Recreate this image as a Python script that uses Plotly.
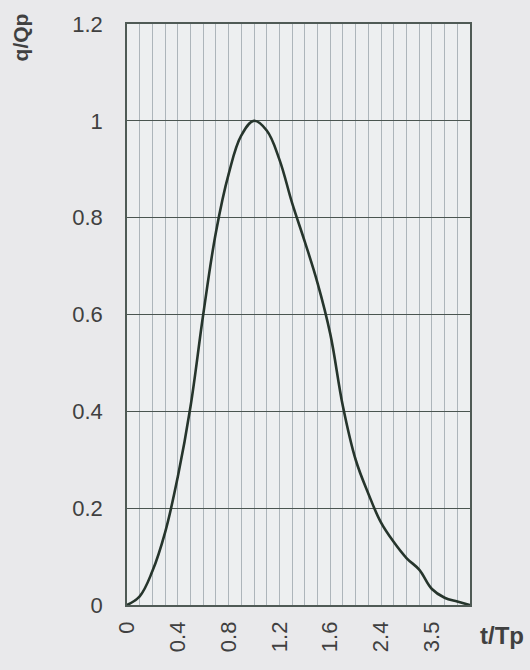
import plotly.graph_objects as go

# t/Tp categories (category axis, one slot per value)
t_tp = [0, 0.1, 0.2, 0.3, 0.4, 0.5, 0.6, 0.7, 0.8, 0.9, 1.0, 1.1, 1.2, 1.3,
        1.4, 1.5, 1.6, 1.8, 2.0, 2.2, 2.4, 2.6, 2.8, 3.0, 3.5, 4.0, 4.5, 5.0]
# q/Qp values
q_qp = [0.0, 0.018, 0.07, 0.15, 0.265, 0.41, 0.60, 0.77, 0.89, 0.97, 1.00, 0.98,
        0.92, 0.83, 0.75, 0.665, 0.56, 0.41, 0.30, 0.23, 0.17, 0.13, 0.097,
        0.073, 0.033, 0.015, 0.007, 0.0]
label_every = 4
y_ticks = [0, 0.2, 0.4, 0.6, 0.8, 1.0, 1.2]
y_ticktext = ["0", "0.2", "0.4", "0.6", "0.8", "1", "1.2"]

idx = list(range(len(t_tp)))
ticktext = [f"{v:g}" if i % label_every == 0 else "" for i, v in enumerate(t_tp)]

FONT = "Liberation Sans, Arial, sans-serif"
TXT = "#404040"

fig = go.Figure()
fig.add_trace(go.Scatter(
    x=idx, y=q_qp, mode="lines",
    line=dict(color="#26352c", width=2.6, shape="spline", smoothing=1.1),
    hoverinfo="skip", showlegend=False,
))

fig.update_layout(
    width=530, height=670,
    margin=dict(l=127, r=60, t=22, b=65),
    paper_bgcolor="#e9e9eb",
    plot_bgcolor="#edeff0",
    font=dict(family=FONT, size=22, color=TXT),
    showlegend=False,
)
fig.update_xaxes(
    range=[0, len(t_tp) - 1],
    tickmode="array", tickvals=idx, ticktext=ticktext,
    tickangle=-90, ticks="", ticklabelstandoff=6,
    showgrid=True, gridcolor="#adb5ba", gridwidth=1,
    showline=True, linecolor="#4f5a55", linewidth=1.5, mirror=True,
    zeroline=False,
    tickfont=dict(family=FONT, size=22, color=TXT),
)
fig.update_yaxes(
    range=[0, 1.2],
    tickmode="array", tickvals=y_ticks, ticktext=y_ticktext,
    ticks="", ticklabelstandoff=18,
    showgrid=True, gridcolor="#4a5550", gridwidth=1,
    showline=True, linecolor="#4f5a55", linewidth=1.5, mirror=True,
    zeroline=False,
    tickfont=dict(family=FONT, size=22, color=TXT),
)

fig.add_annotation(
    text="<b>q/Qp</b>", xref="paper", yref="paper",
    x=-127/343, y=1 + (22-36)/583, xanchor="left", yanchor="middle",
    xshift=7, textangle=-90, showarrow=False,
    font=dict(family=FONT, size=21, color=TXT),
)
fig.add_annotation(
    text="<b>t/Tp</b>", xref="paper", yref="paper",
    x=(502-127)/343, y=-(636-605)/583, xanchor="center", yanchor="middle",
    showarrow=False,
    font=dict(family=FONT, size=24, color=TXT),
)

fig.write_html("out.html")
